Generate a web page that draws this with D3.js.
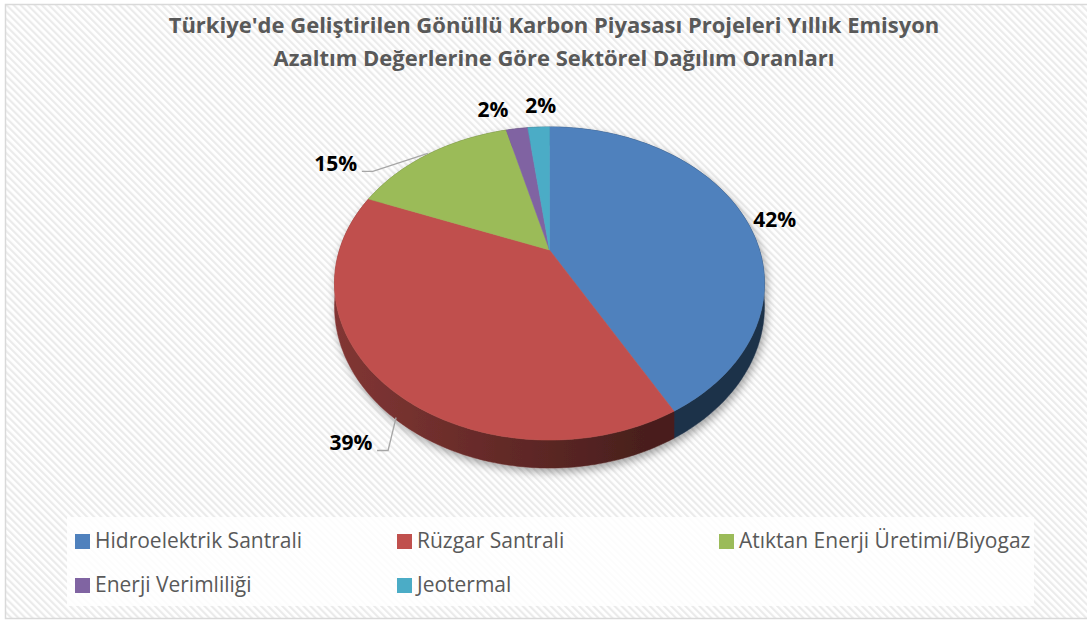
<!DOCTYPE html>
<html><head><meta charset="utf-8">
<script src="https://cdn.jsdelivr.net/npm/d3@7"></script>
<style>html,body{margin:0;padding:0;background:#fff;} svg{display:block;}</style>
</head><body>
<svg id="chart" width="1087" height="621"></svg>
<script>
// ---- data ----
const categories = ["Hidroelektrik Santrali", "Rüzgar Santrali", "Atıktan Enerji Üretimi/Biyogaz", "Enerji Verimliliği", "Jeotermal"];
const values = [42, 39, 15, 2, 2];
const valueLabels = ["42%", "39%", "15%", "2%", "2%"];
const titleLines = ["Türkiye'de Geliştirilen Gönüllü Karbon Piyasası Projeleri Yıllık Emisyon", "Azaltım Değerlerine Göre Sektörel Dağılım Oranları"];

// ---- style / layout ----
const colors = ["#4f81bd", "#c0504d", "#9bbb59", "#8064a2", "#4bacc6"];
const labelOffsets = [[32, 12], [-33, 67], [-94, 18], [-24, -12], [2, -14]];
const leaderEnds = [null, [12, 34], [-2, 0], null, null];

const svg = d3.select("#chart");
const W = 1087, H = 621;
const defs = svg.append("defs");

// background stripes
const pat = defs.append("pattern").attr("id", "stripes").attr("patternUnits", "userSpaceOnUse")
  .attr("width", 5).attr("height", 5).attr("patternTransform", "rotate(-45)");
pat.append("rect").attr("width", 5).attr("height", 5).attr("fill", "#ffffff");
pat.append("rect").attr("width", 2.2).attr("height", 5).attr("fill", "#ebebeb");

svg.append("rect").attr("width", W).attr("height", H).attr("fill", "#fff");
svg.append("rect").attr("x", 5.5).attr("y", 4.5).attr("width", W + 10).attr("height", 614)
  .attr("fill", "url(#stripes)").attr("stroke", "#d9d9d9").attr("stroke-width", 1.5);

// shadow filter
const f = defs.append("filter").attr("id", "shadow").attr("x", "-10%").attr("y", "-10%").attr("width", "120%").attr("height", "130%");
f.append("feDropShadow").attr("dx", 2).attr("dy", 4).attr("stdDeviation", 4)
  .attr("flood-color", "#000").attr("flood-opacity", 0.35);

// title
svg.append("g").selectAll("text").data(titleLines).join("text")
  .attr("x", 554).attr("y", (d, i) => 33 + i * 33)
  .attr("text-anchor", "middle")
  .style("font-family", "'Open Sans', sans-serif").style("font-weight", "bold")
  .style("font-size", "22px").attr("fill", "#595959")
  .text(d => d);

// ---- 3D pie with perspective ----
const cx = 549.5, cy0 = 250, Rx = 210, Ry = 149.4, persp = 0.214, depth = 22;
function proj(theta, r) {
  const X = r * Math.sin(theta), Z = r * Math.cos(theta), w = 1 + persp * Z;
  return [cx + Rx * X / w, cy0 - Ry * Z / w, w];
}
function projBottom(theta, r) {
  const p = proj(theta, r);
  return [p[0], p[1] + depth / p[2]];
}
function arcPoints(a0, a1, fn) {
  const n = Math.max(2, Math.ceil((a1 - a0) / (Math.PI / 180)));
  const pts = [];
  for (let i = 0; i <= n; i++) pts.push(fn(a0 + (a1 - a0) * i / n, 1));
  return pts;
}

const arcs = d3.pie().sort(null).value(d => d)(values);

// side gradients
colors.forEach((c, i) => {
  const g = defs.append("linearGradient").attr("id", "side" + i).attr("gradientUnits", "userSpaceOnUse")
    .attr("x1", cx - 215).attr("x2", cx + 215).attr("y1", 0).attr("y2", 0);
  g.append("stop").attr("offset", 0).attr("stop-color", d3.color(c).darker(1.1));
  g.append("stop").attr("offset", 0.72).attr("stop-color", d3.color(c).darker(2.7));
  g.append("stop").attr("offset", 1).attr("stop-color", d3.color(c).darker(2.7));
});

const pieG = svg.append("g").attr("filter", "url(#shadow)");
const line = d3.line();

// walls
pieG.append("g").selectAll("path").data(arcs).join("path")
  .attr("d", d => {
    const top = arcPoints(d.startAngle, d.endAngle, proj).map(p => [p[0], p[1]]);
    const bot = arcPoints(d.startAngle, d.endAngle, projBottom).reverse();
    return line(top.concat(bot)) + "Z";
  })
  .attr("fill", (d, i) => `url(#side${i})`)
  .attr("stroke", (d, i) => `url(#side${i})`).attr("stroke-width", 0.5);

// top faces
pieG.append("g").selectAll("path").data(arcs).join("path")
  .attr("d", d => {
    const c = proj(0, 0);
    const top = arcPoints(d.startAngle, d.endAngle, proj).map(p => [p[0], p[1]]);
    return line([[c[0], c[1]]].concat(top)) + "Z";
  })
  .attr("fill", (d, i) => colors[i])
  .attr("stroke", (d, i) => colors[i]).attr("stroke-width", 0.5);

// labels
const labelG = svg.append("g");
arcs.forEach((d, i) => {
  const mid = (d.startAngle + d.endAngle) / 2;
  const e = proj(mid, 1);
  const lx = e[0] + labelOffsets[i][0], ly = e[1] + labelOffsets[i][1];
  if (leaderEnds[i]) {
    const end = [e[0] + leaderEnds[i][0], e[1] + leaderEnds[i][1]];
    labelG.append("path")
      .attr("d", line([[lx + 26, ly], [lx + 37, ly], end]))
      .attr("fill", "none").attr("stroke", "#a6a6a6").attr("stroke-width", 1.3);
  }
  labelG.append("text").attr("x", lx).attr("y", ly)
    .attr("text-anchor", "middle")
    .style("font-family", "'Open Sans', sans-serif").style("font-weight", "bold")
    .style("font-size", "21px").attr("fill", "#000")
    .text(valueLabels[i]);
});

// legend
svg.append("rect").attr("x", 67).attr("y", 517).attr("width", 967).attr("height", 89)
  .attr("fill", "#fff").attr("fill-opacity", 0.85);
const leg = svg.append("g").selectAll("g").data(categories).join("g")
  .attr("transform", (d, i) => `translate(${75 + (i % 3) * 322},${548 + Math.floor(i / 3) * 44})`);
leg.append("rect").attr("x", 0).attr("y", -14).attr("width", 15).attr("height", 15)
  .attr("fill", (d, i) => colors[i]);
leg.append("text").attr("x", 20).attr("y", 0)
  .style("font-family", "'Open Sans', sans-serif").style("font-size", "21px")
  .attr("fill", "#595959").text(d => d);
</script>
</body></html>
